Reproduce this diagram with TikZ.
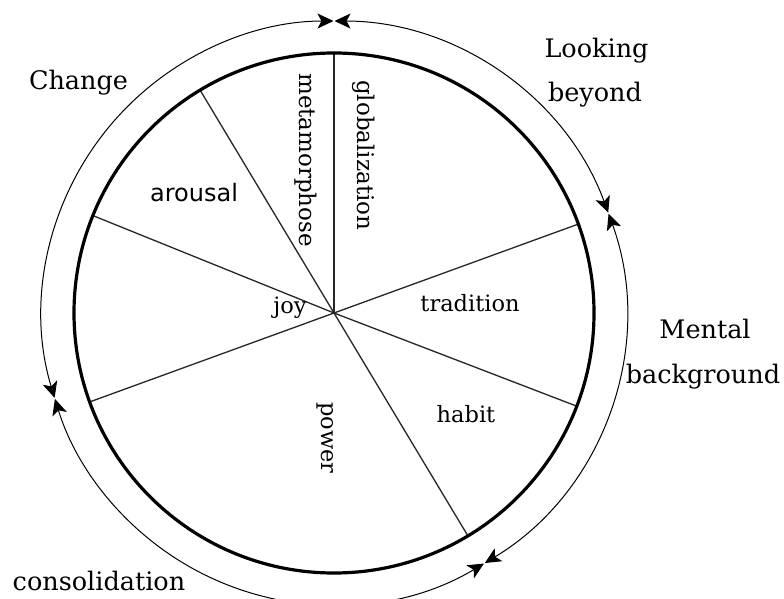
\documentclass[tikz,border=0pt]{standalone}
\usepackage{fontspec}
\setmainfont{DejaVu Serif}
\newfontfamily\sansf{DejaVu Sans}
\usetikzlibrary{arrows.meta,calc}
\tikzset{
  outerlabel/.style={font=\fontsize{25.5}{30}\selectfont, inner sep=0pt, anchor=base},
  innerlabel/.style={font=\fontsize{22.5}{27}\selectfont, inner sep=0pt, anchor=base},
  vlabel/.style={font=\fontsize{23}{27}\selectfont, inner sep=0pt, rotate=-90, anchor=west},
  spoke/.style={line width=1.3pt, draw=black!85},
  cyclearc/.style={line width=1pt, {Stealth[length=16pt,width=15pt,inset=4pt]}-{Stealth[length=16pt,width=15pt,inset=4pt]}},
}
\begin{document}
\begin{tikzpicture}[x=1pt,y=1pt]
\useasboundingbox (0,0) rectangle (784,598);
\fill[white] (0,0) rectangle (784,598);
\coordinate (O) at (334,285);
% spokes ends on inner circle
\foreach \a/\n in {90/p1,121/p2,158/p3,200/p4,301/p5,339/p6,20/p7}
  \coordinate (\n) at ($(O)+(\a:260)$);
\foreach \n in {p1,p2,p3,p4,p5,p6,p7}
  \draw[spoke] (O) -- (\n);
\draw[line width=3.2pt] (O) circle[radius=260];
% outer cycle arcs with arrowheads
\draw[cyclearc] ($(O)+(89.9:292)$) arc[start angle=89.9, end angle=20.1, radius=292];
\draw[cyclearc] ($(O)+(19.9:292)$) arc[start angle=19.9, end angle=-58.9, radius=292];
\draw[cyclearc] ($(O)+(-59.1:292)$) arc[start angle=-59.1, end angle=-162.9, radius=292];
\draw[cyclearc] ($(O)+(196.9:292)$) arc[start angle=196.9, end angle=90.1, radius=292];
% outer labels
\node[outerlabel] (change) at (78.5,508) {Change};
\node[outerlabel] (looking) at (596.5,540) {Looking};
\node[outerlabel] (beyond) at (595,496) {beyond};
\node[outerlabel] (mental) at (705,260) {Mental};
\node[outerlabel] (background) at (703,215) {background};
\node[outerlabel] (consolidation) at (99,8) {consolidation};
% inner labels
\node[vlabel] (glob) at (364,518) {globalization};
\node[vlabel] (meta) at (306,525) {metamorphose};
\node[vlabel, font=\fontsize{22.5}{27}\selectfont] (power) at (325,196) {power};
\node[inner sep=0pt, anchor=base, font=\sansf\fontsize{24}{28}\selectfont] (arousal) at (194,396) {arousal};
\node[innerlabel] (joy) at (290,285) {joy};
\node[innerlabel] (tradition) at (470,287) {tradition};
\node[innerlabel] (habit) at (466,176) {habit};
\end{tikzpicture}
\end{document}
